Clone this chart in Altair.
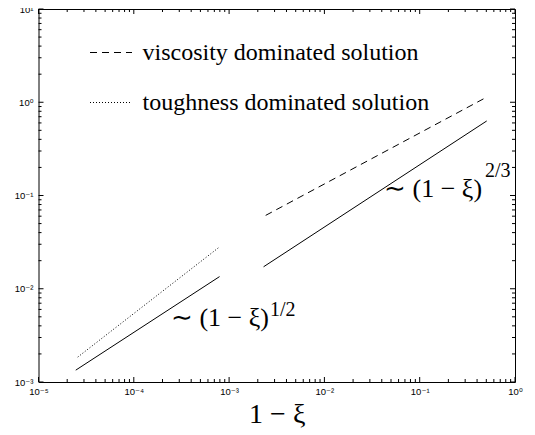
import math
import altair as alt
import pandas as pd

# ---------------- data ----------------
visc_x = [2.42e-3, 0.505]
visc_y = [0.0612, 1.135]
tough_x = [2.58e-5, 7.94e-4]
tough_y = [0.00185, 0.0281]
fit23_x = [2.30e-3, 0.505]
fit23_y = [0.0172, 0.630]
fit12_x = [2.46e-5, 7.94e-4]
fit12_y = [0.00134, 0.0135]

series_names = ["viscosity dominated solution", "toughness dominated solution"]

x_domain = [1e-5, 1.0]
y_domain = [1e-3, 10.0]
x_decades = [1e-5, 1e-4, 1e-3, 1e-2, 1e-1, 1e0]
y_decades = [1e-3, 1e-2, 1e-1, 1e0, 1e1]
x_tick_labels = ["10⁻⁵", "10⁻⁴", "10⁻³", "10⁻²", "10⁻¹", "10⁰"]
y_tick_labels = ["10⁻³", "10⁻²", "10⁻¹", "10⁰", "10¹"]
minor_multipliers = [2, 3, 4, 5, 6, 7, 8, 9]

annot_main = ["∼ (1 − ξ)", "∼ (1 − ξ)"]
annot_main_x = [2.45e-4, 0.0422]
annot_main_y = [3.94e-3, 0.0953]
annot_sup = ["1/2", "2/3"]
annot_sup_x = [2.69e-3, 0.484]
annot_sup_y = [5.04e-3, 0.157]
x_title = "1 − ξ"

# ---------------- layout ----------------
W, H = 476.5, 373
MAJ, MIN = 5, 3
SERIF = "Liberation Serif"
SANS = "Liberation Sans, DejaVu Sans"


def label_expr(vals, labels):
    expr = "''"
    for v, lab in reversed(list(zip(vals, labels))):
        expr = f"abs(log(datum.value)/LN10 - ({math.log10(v):.0f})) < 0.01 ? '{lab}' : " + expr
    return expr


xs = alt.Scale(type="log", domain=x_domain, nice=False)
ys = alt.Scale(type="log", domain=y_domain, nice=False)

x_axis = alt.Axis(values=x_decades, labelExpr=label_expr(x_decades, x_tick_labels),
                  ticks=False, domain=False, grid=False, labelFlush=False,
                  labelOverlap=False, labelFont=SANS, labelFontSize=9.5,
                  labelColor="black", labelPadding=4, title=x_title,
                  titleFont=SERIF, titleFontSize=28, titleFontWeight="normal",
                  titleColor="black", titleBaseline="alphabetic", titleY=40)
y_axis = alt.Axis(values=y_decades, labelExpr=label_expr(y_decades, y_tick_labels),
                  ticks=False, domain=False, grid=False, labelFlush=False,
                  labelOverlap=False, labelFont=SANS, labelFontSize=9.5,
                  labelColor="black", labelPadding=5.5, title=None)


def X():
    return alt.X("x:Q", scale=xs, axis=x_axis)


def Y():
    return alt.Y("y:Q", scale=ys, axis=y_axis)


sol_df = pd.DataFrame({
    "x": visc_x + tough_x,
    "y": visc_y + tough_y,
    "series": [series_names[0]] * len(visc_x) + [series_names[1]] * len(tough_x),
})
fit_df = pd.DataFrame({
    "x": fit23_x + fit12_x,
    "y": fit23_y + fit12_y,
    "seg": ["a"] * len(fit23_x) + ["b"] * len(fit12_x),
})

solutions = alt.Chart(sol_df).mark_line(color="black", strokeWidth=1).encode(
    x=X(), y=Y(),
    strokeDash=alt.StrokeDash(
        "series:N",
        scale=alt.Scale(domain=series_names, range=[[7, 5], [1, 2]]),
        legend=alt.Legend(orient="none", legendX=51, legendY=22, title=None,
                          symbolType="stroke", symbolSize=1764,
                          symbolStrokeWidth=1, symbolStrokeColor="black",
                          labelFont=SERIF, labelFontSize=24, labelColor="black",
                          labelLimit=0, labelOffset=10, rowPadding=16,
                          padding=0),
    ),
)

fits = alt.Chart(fit_df).mark_line(color="black", strokeWidth=1).encode(
    x=X(), y=Y(), detail="seg:N")

xmaj = pd.DataFrame({"x": x_decades})
xmin = pd.DataFrame({"x": [m * d for d in x_decades[:-1] for m in minor_multipliers]})
ymaj = pd.DataFrame({"y": y_decades})
ymin = pd.DataFrame({"y": [m * d for d in y_decades[:-1] for m in minor_multipliers]})

tick_layers = []
for df, L in [(xmaj, MAJ), (xmin, MIN)]:
    tick_layers.append(alt.Chart(df).mark_rule(color="black", strokeWidth=1).encode(
        x=X(), y=alt.value(H), y2=alt.value(H - L)))
    tick_layers.append(alt.Chart(df).mark_rule(color="black", strokeWidth=1).encode(
        x=X(), y=alt.value(0), y2=alt.value(L)))
for df, L in [(ymaj, MAJ), (ymin, MIN)]:
    tick_layers.append(alt.Chart(df).mark_rule(color="black", strokeWidth=1).encode(
        y=Y(), x=alt.value(0), x2=alt.value(L)))
    tick_layers.append(alt.Chart(df).mark_rule(color="black", strokeWidth=1).encode(
        y=Y(), x=alt.value(W), x2=alt.value(W - L)))

main_df = pd.DataFrame({"x": annot_main_x, "y": annot_main_y, "t": annot_main})
sup_df = pd.DataFrame({"x": annot_sup_x, "y": annot_sup_y, "t": annot_sup})
main_text = alt.Chart(main_df).mark_text(align="left", baseline="alphabetic",
                                         font=SERIF, fontSize=26, color="black").encode(
    x=X(), y=Y(), text="t:N")
sup_text = alt.Chart(sup_df).mark_text(align="left", baseline="alphabetic",
                                       font=SERIF, fontSize=20, color="black").encode(
    x=X(), y=Y(), text="t:N")

chart = alt.layer(fits, solutions, *tick_layers, main_text, sup_text).properties(
    width=W, height=H,
    padding={"left": 30.5, "top": 1, "right": 12, "bottom": 50},
    autosize=alt.AutoSizeParams(type="none"),
    background="white",
).configure_view(stroke="black", strokeWidth=1)

chart.save("out.html", embed_options={"renderer": "svg", "actions": False})
